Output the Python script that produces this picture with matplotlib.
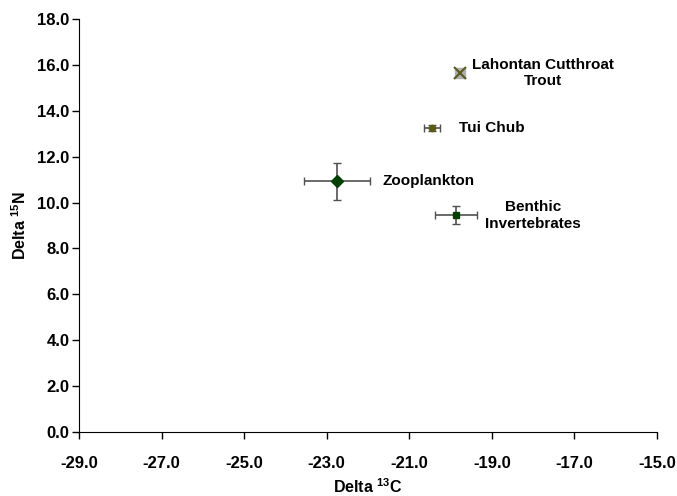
import matplotlib
matplotlib.use('Agg')
import matplotlib.pyplot as plt

# isotope means and errors
groups = ['Lahontan Cutthroat\nTrout', 'Tui Chub', 'Zooplankton', 'Benthic\nInvertebrates']
delta_c = [-19.78, -20.45, -22.75, -19.87]
delta_n = [15.65, 13.25, 10.93, 9.45]
c_err = [0.08, 0.2, 0.8, 0.5]
n_err = [0.1, 0.15, 0.8, 0.4]
markers = ['x', 'o', 'D', 's']
marker_colors = ['#5a5a20', '#5a5a10', '#004000', '#004000']
marker_sizes = [8, 4.5, 6.5, 5]
label_dx = [0.31, 0.65, 1.09, 0.7]

x_ticks = [-29.0 + 2 * i for i in range(8)]
y_ticks = [2.0 * i for i in range(10)]

plt.rcParams['font.family'] = ['Liberation Sans', 'DejaVu Sans']
plt.rcParams['font.weight'] = 'bold'
plt.rcParams['mathtext.fontset'] = 'custom'
plt.rcParams['mathtext.bf'] = 'Liberation Sans:bold'

fig = plt.figure(figsize=(6.77, 4.96), dpi=100)
ax = fig.add_axes([0.1167, 0.129, 0.8538, 0.8327])

for i, name in enumerate(groups):
    ax.errorbar(delta_c[i], delta_n[i], xerr=c_err[i], yerr=n_err[i],
                fmt='none', ecolor='#505050', elinewidth=1.2, capsize=3, capthick=1)
    if markers[i] == 'x':
        ax.plot(delta_c[i], delta_n[i], marker='s', ms=7, color='#b0b0b0', mec='#b0b0b0')
        ax.plot(delta_c[i], delta_n[i], marker='x', ms=marker_sizes[i], mew=1.5,
                color=marker_colors[i])
    else:
        ax.plot(delta_c[i], delta_n[i], marker=markers[i], ms=marker_sizes[i],
                color=marker_colors[i], mec=marker_colors[i])
    ax.text(delta_c[i] + label_dx[i], delta_n[i], name, fontsize=11, fontweight='bold',
            ha='left', va='center', multialignment='center', linespacing=1.25)

ax.set_xlim(-29, -15)
ax.set_ylim(0, 18)
ax.set_xticks(x_ticks)
ax.set_yticks(y_ticks)
ax.set_xticklabels(['%.1f' % v for v in x_ticks], fontsize=12, fontweight='bold')
ax.set_yticklabels(['%.1f' % v for v in y_ticks], fontsize=12, fontweight='bold')
ax.tick_params(axis='x', direction='out', length=5, width=1, pad=12)
ax.tick_params(axis='y', direction='out', length=5, width=1, pad=2)
ax.spines['top'].set_visible(False)
ax.spines['right'].set_visible(False)
ax.set_xlabel('Delta $^{\\mathbf{13}}$C', fontsize=11.5, fontweight='bold')
ax.set_ylabel('Delta $^{\\mathbf{15}}$N', fontsize=11.5, fontweight='bold')
ax.xaxis.set_label_coords(0.5, -0.133)
ax.yaxis.set_label_coords(-0.102, 0.5)
ax.xaxis.label.set_va('center')
ax.yaxis.label.set_va('center')

fig.savefig('out.png', dpi=100)
